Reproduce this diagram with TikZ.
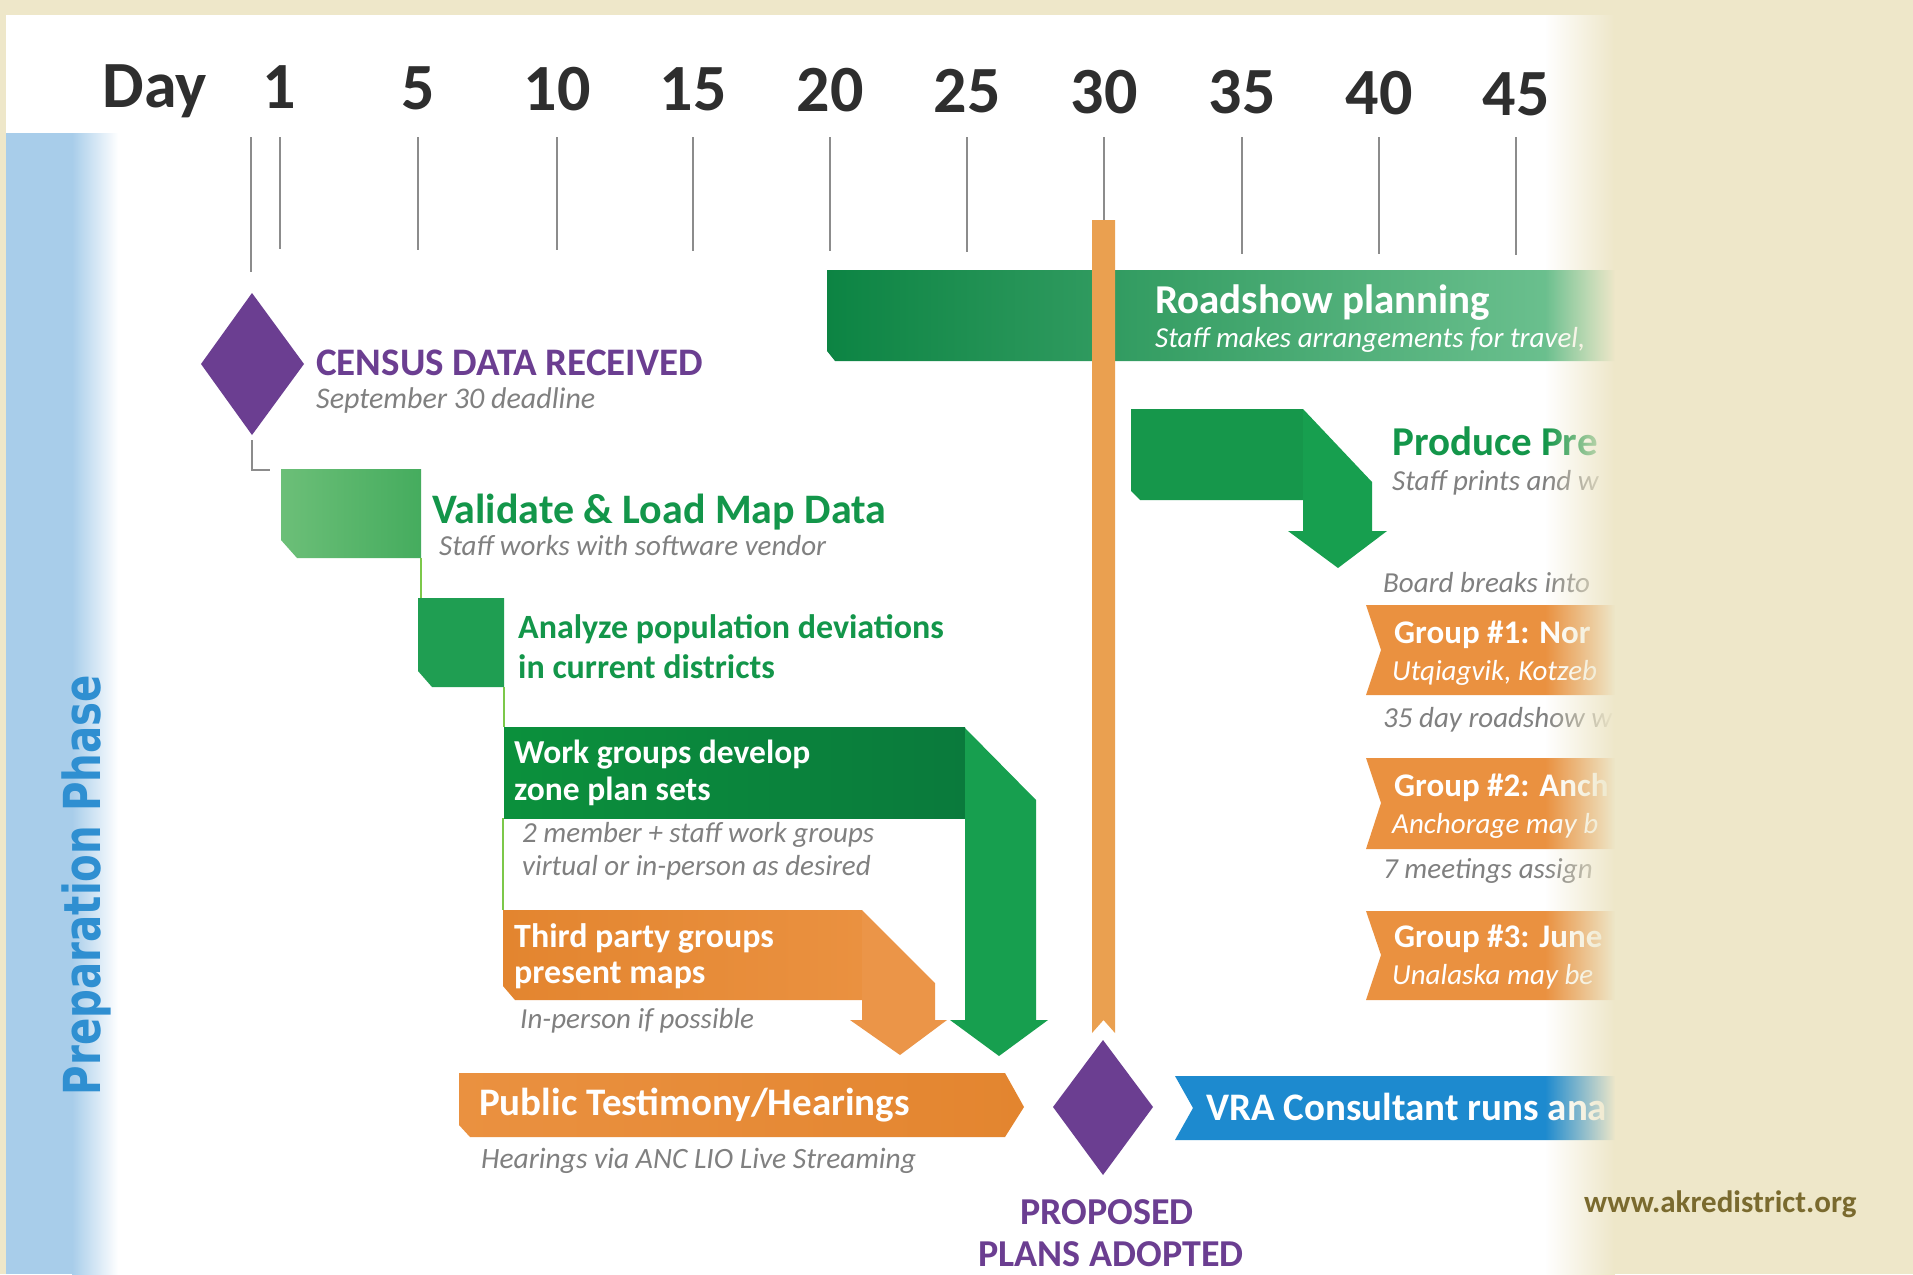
\documentclass[tikz,border=0pt]{standalone}
\usepackage{fontspec}
\setmainfont{Carlito}
\newfontfamily\prepfont{DejaVu Sans}
\usetikzlibrary{fadings}
\newcommand{\fsz}[1]{\fontsize{#1}{#1}\selectfont}
\definecolor{beige}{HTML}{EEE7C9}
\definecolor{daygray}{HTML}{2E2E2E}
\definecolor{tickgray}{HTML}{8C8C8C}
\definecolor{purp}{HTML}{6B3E91}
\definecolor{lgreen}{HTML}{6CBF78}
\definecolor{lgreenb}{HTML}{45AC5E}
\definecolor{mgreen}{HTML}{1F9E52}
\definecolor{dgreen}{HTML}{0C8443}
\definecolor{dgreenb}{HTML}{0A7A3C}
\definecolor{sgreen}{HTML}{179F4F}
\definecolor{labgreen}{HTML}{13964A}
\definecolor{orng}{HTML}{EA9140}
\definecolor{orngd}{HTML}{E3852F}
\definecolor{vorange}{HTML}{EAA050}
\definecolor{vrablue}{HTML}{1D8ACF}
\definecolor{bandblue}{HTML}{A8CDEA}
\definecolor{prepblue}{HTML}{2F8FD1}
\definecolor{subgray}{HTML}{808080}
\definecolor{urlbrown}{HTML}{7A6A2E}
\definecolor{linegreen}{HTML}{7CC84A}
\tikzfading[name=fadeinright, left color=transparent!100, right color=transparent!0]

\tikzset{
  daylbl/.style={anchor=base, inner sep=0pt, text=daygray, font=\fsz{66}\bfseries},
  daytick/.style={draw=tickgray, line width=1.6pt},
  ttl/.style={anchor=base west, inner sep=0pt, font=\fsz{39}\bfseries},
  sub/.style={anchor=base west, inner sep=0pt, text=subgray, font=\fsz{29}\itshape},
  wsub/.style={anchor=base west, inner sep=0pt, text=white, font=\fsz{29}\itshape},
  link/.style={draw=linegreen, line width=1.6pt},
}

\begin{document}
\begin{tikzpicture}[x=1pt, y=-1pt]
   \useasboundingbox (0,0) rectangle (1913,1274);
   \fill[beige] (0,0) rectangle (1913,1274);
   \fill[white] (6,15) rectangle (1620,1274);
   \fill[bandblue] (6,133) rectangle (72,1274);
   \shade[left color=bandblue, right color=white] (72,133) rectangle (118,1274);
   \node[rotate=90, anchor=base, inner sep=0pt, text=prepblue, font=\prepfont\bfseries\fsz{51}]
    (prep) at (100,885) {\scalebox{0.79}[1]{Preparation Phase}};

   \node[daylbl] (day) at (155,107) {Day};
   \node[daylbl] (d1)  at (279,108) {1};
   \node[daylbl] (d5)  at (418,109) {5};
   \node[daylbl] (d10) at (557,110) {10};
   \node[daylbl] (d15) at (693,110) {15};
   \node[daylbl] (d20) at (830,111) {20};
   \node[daylbl] (d25) at (967,112) {25};
   \node[daylbl] (d30) at (1104,113) {30};
   \node[daylbl] (d35) at (1242,113) {35};
   \node[daylbl] (d40) at (1379,114) {40};
   \node[daylbl] (d45) at (1516,115) {45};
   \draw[daytick] (251,137) -- (251,272);
   \draw[daytick] (280,137) -- (280,249);
   \draw[daytick] (418,137) -- (418,250);
   \draw[daytick] (557,137) -- (557,250);
   \draw[daytick] (693,137) -- (693,251);
   \draw[daytick] (830,137) -- (830,251);
   \draw[daytick] (967,137) -- (967,252);
   \draw[daytick] (1104,137) -- (1104,253);
   \draw[daytick] (1242,137) -- (1242,254);
   \draw[daytick] (1379,137) -- (1379,254);
   \draw[daytick] (1516,137) -- (1516,255);

   \fill[purp] (252,293) -- (304,364) -- (252,435) -- (201,364) -- cycle;
   \node[ttl, text=purp] (census) at (316,375) {CENSUS DATA RECEIVED};
   \node[sub, font=\fsz{30}\itshape] (censussub) at (316,408) {September 30 deadline};
   \coordinate (censusfoot) at (252,440);
   \coordinate (valcorner) at (270,470);
   \draw[daytick] (censusfoot) |- (valcorner);

   \shade[left color=dgreen, middle color=sgreen!90!black, right color=sgreen!60!white]
    (827,270) -- (1620,270) -- (1620,361) -- (835,361) -- (827,351) -- cycle;
   \node[ttl, text=white, font=\fsz{41}\bfseries] (road) at (1155,313) {Roadshow planning};
   \node[wsub] (roadsub) at (1155,347) {Staff makes arrangements for travel,};

   \shade[left color=lgreen, right color=lgreenb]
    (281,469) -- (421,469) -- (421,558) -- (297,558) -- (281,540) -- cycle;
   \coordinate (valfoot) at (421,558);
   \coordinate (anatop) at (421,598);
   \draw[link] (valfoot) -- (anatop);
   \node[ttl, text=labgreen, font=\fsz{42}\bfseries] (val) at (432,523) {Validate \& Load Map Data};
   \node[sub] (valsub) at (439,555) {Staff works with software vendor};

   \fill[mgreen] (418,598) -- (504,598) -- (504,687) -- (432,687) -- (418,671) -- cycle;
   \coordinate (anafoot) at (504,687);
   \coordinate (worktop) at (504,727);
   \draw[link] (anafoot) -- (worktop);
   \node[ttl, text=labgreen, font=\fsz{34}\bfseries] (ana) at (518,638) {Analyze population deviations};
   \node[ttl, text=labgreen, font=\fsz{34}\bfseries] (ana2) at (518,678) {in current districts};

   \shade[left color=dgreen!90!green, right color=dgreenb] (504,727) rectangle (965,818);
   \fill[sgreen] (965,728) -- (1036,800) -- (1036,1020) -- (1048,1020) -- (999,1056)
    -- (950,1020) -- (965,1020) -- cycle;
   \node[ttl, text=white, font=\fsz{33.5}\bfseries] (work) at (514,763) {Work groups develop};
   \node[ttl, text=white, font=\fsz{33.5}\bfseries] (work2) at (514,800) {zone plan sets};
   \node[sub] (worksub) at (522,842) {2 member + staff work groups};
   \node[sub] (worksub2) at (522,875) {virtual or in-person as desired};
   \coordinate (workfoot) at (503,818);
   \coordinate (thirdtop) at (503,910);
   \draw[link] (workfoot) -- (thirdtop);

   \shade[left color=orngd, right color=orng]
    (503,910) -- (862,910) -- (862,1000) -- (515,1000) -- (503,986) -- cycle;
   \fill[orng!96!white] (862,910) -- (935,983) -- (935,1020) -- (947,1020) -- (900,1055)
    -- (850,1020) -- (862,1020) -- cycle;
   \node[ttl, text=white, font=\fsz{34}\bfseries] (third) at (514,947) {Third party groups};
   \node[ttl, text=white, font=\fsz{34}\bfseries] (third2) at (514,983) {present maps};
   \node[sub] (thirdsub) at (520,1028) {In-person if possible};

   \fill[vorange] (1092,220) -- (1115,220) -- (1115,1033) -- (1103.5,1020) -- (1092,1033) -- cycle;

   \shade[left color=orng, right color=orngd]
    (459,1073) -- (1005,1073) -- (1024,1107) -- (1005,1137) -- (470,1137) -- (459,1125) -- cycle;
   \node[ttl, text=white] (pub) at (479,1115) {Public Testimony/Hearings};
   \node[sub, font=\fsz{29.5}\itshape] (pubsub) at (481,1168) {Hearings via ANC LIO Live Streaming};

   \fill[purp] (1103,1040) -- (1153,1107) -- (1103,1175) -- (1053,1107) -- cycle;
   \node[ttl, anchor=base, text=purp, font=\fsz{38}\bfseries] (prop) at (1107,1224) {PROPOSED};
   \node[ttl, anchor=base, text=purp, font=\fsz{38}\bfseries] (prop2) at (1111,1266) {PLANS ADOPTED};

   \fill[vrablue] (1175,1076) -- (1620,1076) -- (1620,1140) -- (1175,1140) -- (1193,1108) -- cycle;
   \node[ttl, text=white] (vra) at (1206,1120) {VRA Consultant runs ana};

   \fill[sgreen!95!black] (1131,409) -- (1303,409) -- (1303,500) -- (1140,500) -- (1131,491) -- cycle;
   \fill[sgreen] (1303,409) -- (1372,482) -- (1372,531) -- (1387,531) -- (1338,568)
    -- (1288,531) -- (1303,531) -- cycle;
   \node[ttl, text=labgreen, font=\fsz{41}\bfseries] (prod) at (1392,455) {Produce Pre};
   \node[sub] (prodsub) at (1392,490) {Staff prints and w};

   \node[sub] (board) at (1383,592) {Board breaks into};
   \fill[orng] (1366,605) -- (1620,605) -- (1620,695) -- (1366,695) -- (1381,650) -- cycle;
   \node[ttl, text=white, font=\fsz{33}\bfseries] (grp1) at (1394,643) {Group \#1: Nor};
   \node[wsub] (grp1sub) at (1392,680) {Utqiagvik, Kotzeb};
   \node[sub] (road35) at (1383,727) {35 day roadshow w};
   \fill[orng] (1366,758) -- (1620,758) -- (1620,849) -- (1366,849) -- (1381,803) -- cycle;
   \node[ttl, text=white, font=\fsz{33}\bfseries] (grp2) at (1394,796) {Group \#2: Anch};
   \node[wsub] (grp2sub) at (1392,833) {Anchorage may b};
   \node[sub] (meet7) at (1383,878) {7 meetings assign};
   \fill[orng] (1366,911) -- (1620,911) -- (1620,1000) -- (1366,1000) -- (1381,955) -- cycle;
   \node[ttl, text=white, font=\fsz{33}\bfseries] (grp3) at (1394,947) {Group \#3: June};
   \node[wsub] (grp3sub) at (1392,984) {Unalaska may be};

   \fill[beige, path fading=fadeinright] (1545,0) rectangle (1615,1274);
   \fill[beige] (1615,0) rectangle (1913,1274);
   \node[ttl, text=urlbrown, font=\fsz{31}\bfseries] (url) at (1584,1212) {www.akredistrict.org};
\end{tikzpicture}
\end{document}
